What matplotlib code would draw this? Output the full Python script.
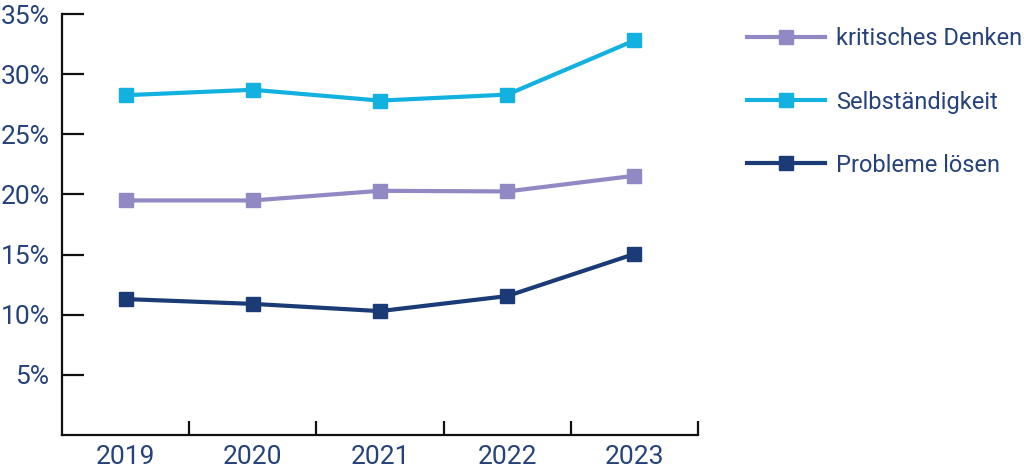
import numpy as np
import matplotlib.pyplot as plt

# Daten (Anteile in %)
jahre = ['2019', '2020', '2021', '2022', '2023']
kritisches_denken = [19.5, 19.5, 20.3, 20.25, 21.55]
selbstaendigkeit = [28.25, 28.7, 27.8, 28.3, 32.8]
probleme_loesen = [11.3, 10.9, 10.3, 11.55, 15.05]
y_ticks = [5, 10, 15, 20, 25, 30, 35]

TEXT = '#25427a'
plt.rcParams['font.family'] = ['Roboto', 'DejaVu Sans']

fig = plt.figure(figsize=(10.24, 4.71), dpi=100)
ax = fig.add_axes([62 / 1024, 36 / 471, 636 / 1024, 421 / 471])

x = np.arange(len(jahre))
serien = [
    ('kritisches Denken', kritisches_denken, '#9189c4'),
    ('Selbständigkeit', selbstaendigkeit, '#12b1e0'),
    ('Probleme lösen', probleme_loesen, '#1a3b75'),
]
for name, werte, farbe in serien:
    ax.plot(x, werte, color=farbe, lw=3, marker='s', ms=9.5, label=name)

ax.set_xlim(-0.5, 4.5)
ax.set_ylim(0, 35)

# Achsen
for s in ['top', 'right']:
    ax.spines[s].set_visible(False)
for s in ['left', 'bottom']:
    ax.spines[s].set_linewidth(1.6)
    ax.spines[s].set_color('#111111')

ax.set_yticks(y_ticks)
ax.set_yticklabels([f'{v}%' for v in y_ticks])
ax.set_xticks(x)
ax.set_xticklabels(jahre)
ax.tick_params(axis='x', length=0, pad=7, labelsize=19, labelcolor=TEXT)
ax.set_xticks(np.arange(0.5, 5, 1), minor=True)
ax.tick_params(axis='x', which='minor', direction='in', length=10, width=1.6, color='#111111')
ax.tick_params(axis='y', direction='in', length=16, width=1.6, color='#111111',
               pad=9, labelsize=19, labelcolor=TEXT)

leg = fig.legend(loc='upper left', bbox_to_anchor=(738 / 1024, 1 - 18 / 471),
                 frameon=False, fontsize=17, handlelength=3.3, labelspacing=1.7,
                 handletextpad=0.45, borderaxespad=0)
for t in leg.get_texts():
    t.set_color(TEXT)

fig.savefig('out.png', dpi=100)
